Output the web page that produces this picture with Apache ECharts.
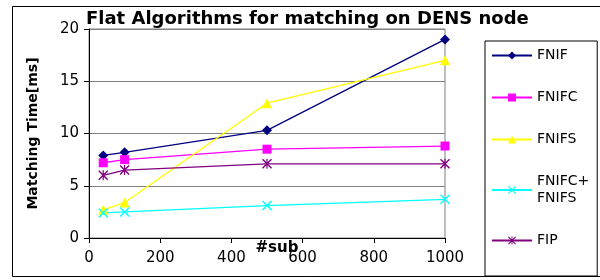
<!DOCTYPE html>
<html>
<head>
<meta charset="utf-8">
<script src="https://cdn.jsdelivr.net/npm/echarts@6/dist/echarts.min.js"></script>
<style>
  html, body { margin: 0; padding: 0; background: #fff; }
  #chart { width: 600px; height: 280px; }
</style>
</head>
<body>
<div id="chart"></div>
<script>
// data
const subCounts = [40, 100, 500, 1000];
const fnif = [7.9, 8.2, 10.3, 19.0];
const fnifc = [7.2, 7.5, 8.5, 8.8];
const fnifs = [2.7, 3.4, 12.9, 17.0];
const fnifcFnifs = [2.4, 2.5, 3.1, 3.7];
const fip = [6.0, 6.5, 7.1, 7.1];

const seriesNames = ['FNIF', 'FNIFC', 'FNIFS', 'FNIFC+\nFNIFS', 'FIP'];
const seriesValues = [fnif, fnifc, fnifs, fnifcFnifs, fip];
const seriesColors = ['#000080', '#ff00ff', '#ffff00', '#00ffff', '#800080'];

const xSymbol = 'path://M0,1 L1,0 L10,9 L9,10 Z M9,0 L10,1 L1,10 L0,9 Z';
const starSymbol = 'path://M0,1 L1,0 L10,9 L9,10 Z M9,0 L10,1 L1,10 L0,9 Z M4.4,0 L5.6,0 L5.6,10 L4.4,10 Z';
const symbols = ['diamond', 'rect', 'triangle', xSymbol, starSymbol];
const symbolSizes = [10, 9, 10, 10, 10];

const font = 'DejaVu Sans';

const myChart = echarts.init(document.getElementById('chart'));
myChart.setOption({
  animation: false,
  title: {
    text: 'Flat Algorithms for matching on DENS node',
    left: 86,
    top: 10,
    padding: 0,
    textStyle: { fontFamily: font, fontSize: 18, fontWeight: 'bold', color: '#000' },
  },
  legend: {
    orient: 'vertical',
    left: 485,
    top: 41,
    padding: [6, 8, 27, 6],
    itemGap: 25,
    itemWidth: 40,
    itemHeight: 10,
    borderColor: '#000',
    borderWidth: 1,
    textStyle: { fontFamily: font, fontSize: 14, color: '#000', lineHeight: 17 },
    data: seriesNames,
  },
  grid: {
    left: 89,
    right: 155,
    top: 29,
    bottom: 42,
    show: true,
    borderColor: '#808080',
    borderWidth: 1,
  },
  xAxis: {
    type: 'value',
    min: 0,
    max: 1000,
    interval: 200,
    name: '#sub',
    nameLocation: 'middle',
    nameGap: 3,
    nameMoveOverlap: false,
    nameTextStyle: { fontFamily: font, fontSize: 15, fontWeight: 'bold', color: '#000', padding: [0, 0, 0, 20] },
    axisLine: { lineStyle: { color: '#000' } },
    axisTick: { show: true, length: 5, lineStyle: { color: '#000' } },
    axisLabel: { fontFamily: font, fontSize: 15, color: '#000', margin: 13, formatter: (v) => String(v) },
    splitLine: { show: false },
  },
  yAxis: {
    type: 'value',
    min: 0,
    max: 20,
    interval: 5,
    name: 'Matching Time[ms]',
    nameLocation: 'middle',
    nameGap: 49,
    nameMoveOverlap: false,
    nameTextStyle: { fontFamily: font, fontSize: 14, fontWeight: 'bold', color: '#000' },
    axisLine: { show: true, lineStyle: { color: '#000' } },
    axisTick: { show: true, length: 5, lineStyle: { color: '#000' } },
    axisLabel: { fontFamily: font, fontSize: 15, color: '#000', margin: 10 },
    splitLine: { show: true, lineStyle: { color: '#808080', width: 1 } },
  },
  series: seriesNames.map((name, i) => ({
    name: name,
    type: 'line',
    data: subCounts.map((x, j) => [x, seriesValues[i][j]]),
    symbol: symbols[i],
    symbolSize: symbolSizes[i],
    showAllSymbol: true,
    lineStyle: { color: seriesColors[i], width: 1.3 },
    itemStyle: { color: seriesColors[i], borderWidth: 0 },
  })),
  graphic: [
    {
      type: 'rect',
      shape: { x: 12.5, y: 6.5, width: 600, height: 270 },
      style: { fill: 'none', stroke: '#000', lineWidth: 1 },
      silent: true,
    },
  ],
});
</script>
</body>
</html>
